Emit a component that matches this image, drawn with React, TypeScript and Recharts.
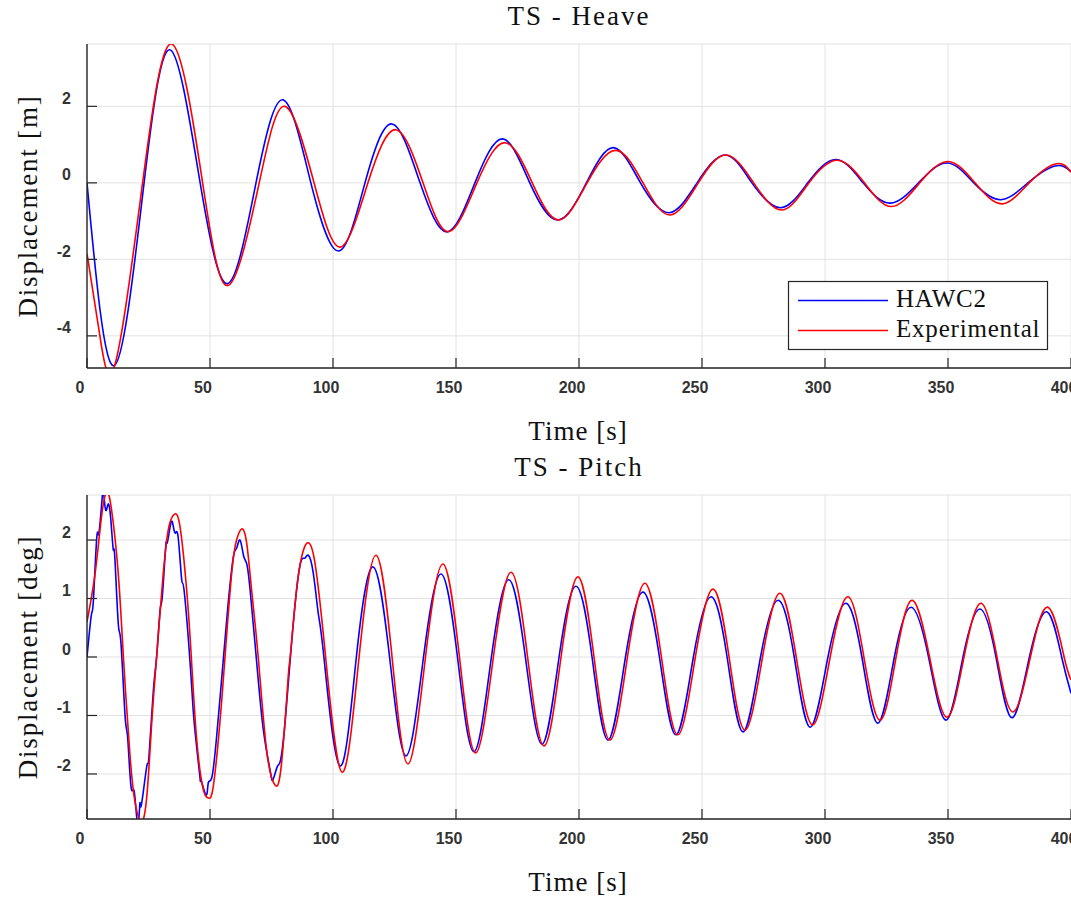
import React from 'react';
import { LineChart, Line, XAxis, YAxis, CartesianGrid } from 'recharts';

// ---------- data ----------
const timeTicks = [0, 50, 100, 150, 200, 250, 300, 350, 400];
const heaveTicks = [-4, -2, 0, 2];
const pitchTicks = [-2, -1, 0, 1, 2];
const seriesNames = ['HAWC2', 'Experimental'];

const heaveHawc2: [number, number][] = [
  [0, 0], [11.0, -4.78], [23.2, 0], [34, 3.47],
  [46, 0], [57.3, -2.63], [68.7, 0], [79.7, 2.17], [91, 0], [102.4, -1.78],
  [113, 0], [124, 1.54], [135.4, 0], [146.5, -1.28], [157.7, 0], [169, 1.15], [180, 0],
  [191.5, -0.97], [203, 0], [214, 0.92], [225, 0], [236.6, -0.78], [248, 0], [259.5, 0.73],
  [270.3, 0], [282, -0.65], [293, 0], [304.5, 0.61], [315.5, 0], [326.5, -0.53], [338, 0],
  [349.6, 0.52], [360.5, 0], [371.5, -0.44], [382.5, 0], [393.5, 0.44], [400, 0.3],
];

const heaveExp: [number, number][] = [
  [0, -1.85], [5.0, -3.9], [11.4, -4.74], [22.6, 0], [34.5, 3.63],
  [47, 0], [57.5, -2.68], [70, 0], [80.5, 2.0], [92.3, 0], [103, -1.68],
  [114.2, 0], [125.5, 1.39], [136.6, 0], [147, -1.28], [158.5, 0], [170, 1.05], [181, 0],
  [191.8, -0.97], [203.3, 0], [215, 0.85], [226, 0], [237, -0.84], [248.5, 0], [259.8, 0.73],
  [271, 0], [282.5, -0.71], [293.5, 0], [305, 0.59], [316, 0], [327, -0.62], [338.5, 0],
  [350, 0.56], [361, 0], [372, -0.55], [383, 0], [394, 0.5], [400, 0.28],
];

const pitchHawc2: [number, number][] = [
  [0, 0], [0.8, 0.35], [1.9, 0.75], [2.6, 0.97], [3.9, 2.0], [4.6, 2.09], [5.3, 2.29],
  [6.2, 2.74], [6.7, 2.85], [7.6, 2.51], [8.7, 2.62], [9.8, 2.29], [10.7, 1.83], [11.3, 1.71],
  [12.7, 0.58], [13.8, 0.24], [15.5, -1.02], [16.5, -1.36], [17.9, -2.22], [19.2, -2.3],
  [20.6, -2.85], [21.5, -2.5], [22.1, -2.53], [24.3, -1.87], [25.2, -1.7], [27, -0.56],
  [28.3, 0], [29.7, 0.8], [30.6, 1.03], [32, 1.89], [32.6, 1.95], [34.1, 2.29], [35.1, 2.23],
  [36, 2.12], [37.1, 2.03], [38.5, 1.32], [39.6, 1.09], [42.3, -0.34], [43.6, -1.13],
  [45.9, -2.05], [46.3, -2.1], [48.4, -2.36], [49.3, -2.15], [50.7, -2.07], [52.7, -1.36],
  [55.4, -0.05], [57.4, 0.92], [59.5, 1.71], [60.8, 1.86], [62.2, 2.0], [63.6, 1.74],
  [64.9, 1.6], [66.3, 1.15], [69, -0.1], [71.7, -1.25], [74.4, -1.93], [75.6, -2.1],
  [77.4, -1.87], [78.7, -1.76], [80.5, -1.13], [82.5, -0.1], [85.2, 1.15], [87.2, 1.66],
  [88.6, 1.69], [90, 1.74], [92, 1.43], [94, 0.75], [96.3, 0], [102.8, -1.86], [109.5, 0],
  [116.3, 1.54], [123, 0], [129.7, -1.69], [136.8, 0], [143.9, 1.42], [150.6, 0],
  [157.3, -1.62], [164.4, 0], [171.5, 1.32], [178.2, 0], [185, -1.49], [191.9, 0],
  [198.8, 1.21], [205.3, 0], [211.8, -1.42], [218.9, 0], [226, 1.11], [232.7, 0],
  [239.4, -1.33], [246.5, 0], [253.7, 1.03], [260.2, 0], [266.7, -1.28], [273.8, 0],
  [281, 0.97], [287.5, 0], [294, -1.2], [301.2, 0], [308.5, 0.92], [315, 0], [321.5, -1.13],
  [328.2, 0], [335.0, 0.85], [342.1, 0], [349.2, -1.08], [356.1, 0], [363.0, 0.82],
  [369.5, 0], [376.0, -1.04], [383.1, 0], [390.3, 0.77], [396.2, 0], [400, -0.62],
];

const pitchExp: [number, number][] = [
  [0, 0.6], [3.3, 1.43], [5.9, 2.4], [8, 2.82], [10, 2.51], [12.7, 1.43], [14.8, 0],
  [17.5, -1.7], [19.6, -2.5], [22, -2.82], [24.3, -2.39], [26.3, -1.13], [28.3, 0],
  [31, 1.43], [33.3, 2.23], [35.5, 2.44], [37.8, 2.23], [40.5, 1.15], [42.4, 0],
  [44.6, -1.42], [47.3, -2.27], [49.3, -2.41], [51.3, -2.22], [54, -1.13], [56.1, 0],
  [58.8, 1.43], [60.8, 2.0], [62.9, 2.19], [64.9, 1.95], [66.9, 1.15], [69.6, 0],
  [73, -1.59], [76.4, -2.19], [79.1, -1.81], [81.8, -0.34], [82.6, 0], [85.2, 1.15],
  [88, 1.83], [90.2, 1.95], [92.7, 1.6], [97, 0], [103.7, -1.97], [110.6, 0], [117.5, 1.74],
  [124, 0], [130.5, -1.83], [137.6, 0], [144.7, 1.59], [151.4, 0], [158, -1.64],
  [165.2, 0], [172.4, 1.45], [179.1, 0], [185.8, -1.52], [192.7, 0], [199.6, 1.37],
  [206.1, 0], [212.6, -1.42], [219.7, 0], [226.8, 1.26], [233.5, 0], [240.2, -1.33],
  [247.3, 0], [254.5, 1.16], [261, 0], [267.5, -1.25], [274.6, 0], [281.7, 1.09],
  [288.3, 0], [295, -1.16], [302.1, 0], [309.3, 1.03], [315.8, 0], [322.4, -1.08],
  [328.9, 0], [335.4, 0.97], [342.5, 0], [349.6, -1.03], [356.5, 0], [363.4, 0.92],
  [369.9, 0], [376.4, -0.94], [383.5, 0], [390.7, 0.85], [397.2, 0], [400, -0.39],
];

// ---------- helpers ----------
const toPts = (arr: [number, number][]) => arr.map(([t, v]) => ({ t, v }));

const AX = '#262626';
const GRID = '#e2e2e2';
const TICK_FONT = "'Liberation Sans', Arial, sans-serif";
const SERIF = "'Liberation Serif', 'Times New Roman', serif";
const BLUE = '#0000ff';
const RED = '#ff0000';

const tickText = {
  fontFamily: TICK_FONT,
  fontWeight: 700,
  fontSize: 16,
  fill: '#333333',
};

const XTickBottom = (p: any) => (
  <g>
    <line x1={p.x} x2={p.x} y1={p.y} y2={p.y - 10} stroke={AX} strokeWidth={1.2} />
    <text x={p.x - 7} y={p.y + 19} textAnchor="middle" dominantBaseline="central" {...tickText}>
      {p.payload.value}
    </text>
  </g>
);
const XTickTop = (p: any) => (
  <line x1={p.x} x2={p.x} y1={p.y} y2={p.y + 10} stroke={AX} strokeWidth={1.2} />
);
const YTickLeft = (p: any) => (
  <g>
    <line x1={p.x} x2={p.x + 10} y1={p.y} y2={p.y} stroke={AX} strokeWidth={1.2} />
    <text x={p.x - 16} y={p.y - 8} textAnchor="end" dominantBaseline="central" {...tickText}>
      {p.payload.value}
    </text>
  </g>
);
const YTickRight = (p: any) => (
  <line x1={p.x - 10} x2={p.x} y1={p.y} y2={p.y} stroke={AX} strokeWidth={1.2} />
);

type PanelProps = {
  top: number;
  domain: [number, number];
  yTicks: number[];
  a: [number, number][];
  b: [number, number][];
};

const Panel = ({ top, domain, yTicks, a, b }: PanelProps) => (
  <div style={{ position: 'absolute', left: 0, top, width: 1071, height: 450 }}>
    <LineChart width={1071} height={450} margin={{ top: 44, right: 0, bottom: 52, left: 0 }}>
      <CartesianGrid stroke={GRID} strokeWidth={1} />
      <XAxis
        dataKey="t"
        type="number"
        domain={[0, 400]}
        ticks={timeTicks}
        interval={0}
        allowDataOverflow
        height={30}
        tickLine={false}
        tickSize={0}
        tickMargin={0}
        axisLine={{ stroke: AX, strokeWidth: 1.4 }}
        tick={<XTickBottom />}
      />
      <XAxis
        xAxisId="top"
        orientation="top"
        dataKey="t"
        type="number"
        domain={[0, 400]}
        ticks={timeTicks}
        interval={0}
        allowDataOverflow
        height={0}
        tickLine={false}
        tickSize={0}
        tickMargin={0}
        axisLine={{ stroke: AX, strokeWidth: 1.4 }}
        tick={<XTickTop />}
      />
      <YAxis
        type="number"
        domain={domain}
        ticks={yTicks}
        interval={0}
        allowDataOverflow
        width={87}
        tickLine={false}
        tickSize={0}
        tickMargin={0}
        axisLine={{ stroke: AX, strokeWidth: 1.4 }}
        tick={<YTickLeft />}
      />
      <YAxis
        yAxisId="right"
        orientation="right"
        type="number"
        domain={domain}
        ticks={yTicks}
        interval={0}
        allowDataOverflow
        width={0}
        tickLine={false}
        tickSize={0}
        tickMargin={0}
        axisLine={{ stroke: AX, strokeWidth: 1.4 }}
        tick={<YTickRight />}
      />
      <Line
        data={toPts(a)}
        dataKey="v"
        name={seriesNames[0]}
        type="natural"
        stroke={BLUE}
        strokeWidth={1.6}
        dot={false}
        activeDot={false}
        isAnimationActive={false}
      />
      <Line
        data={toPts(b)}
        dataKey="v"
        name={seriesNames[1]}
        type="natural"
        stroke={RED}
        strokeWidth={1.6}
        dot={false}
        activeDot={false}
        isAnimationActive={false}
      />
    </LineChart>
  </div>
);

const labelStyle = { fontFamily: SERIF, fill: '#111' };

export default function App() {
  return (
    <div
      style={{
        position: 'absolute',
        left: 0,
        top: 0,
        width: 1071,
        height: 897,
        background: '#ffffff',
        overflow: 'hidden',
      }}
    >
      <Panel top={0} domain={[-4.84, 3.63]} yTicks={heaveTicks} a={heaveHawc2} b={heaveExp} />
      <Panel top={451} domain={[-2.77, 2.77]} yTicks={pitchTicks} a={pitchHawc2} b={pitchExp} />
      <svg
        width={1071}
        height={897}
        style={{ position: 'absolute', left: 0, top: 0, pointerEvents: 'none' }}
      >
        {/* titles */}
        <text x={579} y={25} textAnchor="middle" fontSize={27} letterSpacing={2} {...labelStyle}>
          TS - Heave
        </text>
        <text x={579} y={476} textAnchor="middle" fontSize={27} letterSpacing={2} {...labelStyle}>
          TS - Pitch
        </text>
        {/* x labels */}
        <text x={578} y={440} textAnchor="middle" fontSize={27} letterSpacing={1} {...labelStyle}>
          Time [s]
        </text>
        <text x={578} y={891} textAnchor="middle" fontSize={27} letterSpacing={1} {...labelStyle}>
          Time [s]
        </text>
        {/* y labels */}
        <text
          x={0}
          y={0}
          transform="translate(37,206) rotate(-90)"
          textAnchor="middle"
          fontSize={27}
          letterSpacing={1.8}
          {...labelStyle}
        >
          Displacement [m]
        </text>
        <text
          x={0}
          y={0}
          transform="translate(37,657) rotate(-90)"
          textAnchor="middle"
          fontSize={27}
          letterSpacing={1.8}
          {...labelStyle}
        >
          Displacement [deg]
        </text>
        {/* legend */}
        <rect x={788.5} y={281.5} width={259} height={68} fill="#ffffff" stroke={AX} strokeWidth={1.2} />
        <line x1={798} x2={888} y1={300.5} y2={300.5} stroke={BLUE} strokeWidth={1.6} />
        <line x1={798} x2={888} y1={330.5} y2={330.5} stroke={RED} strokeWidth={1.6} />
        <text x={896} y={307} fontSize={25} letterSpacing={0.8} {...labelStyle}>
          {seriesNames[0]}
        </text>
        <text x={896} y={337} fontSize={25} letterSpacing={0.8} {...labelStyle}>
          {seriesNames[1]}
        </text>
      </svg>
    </div>
  );
}
